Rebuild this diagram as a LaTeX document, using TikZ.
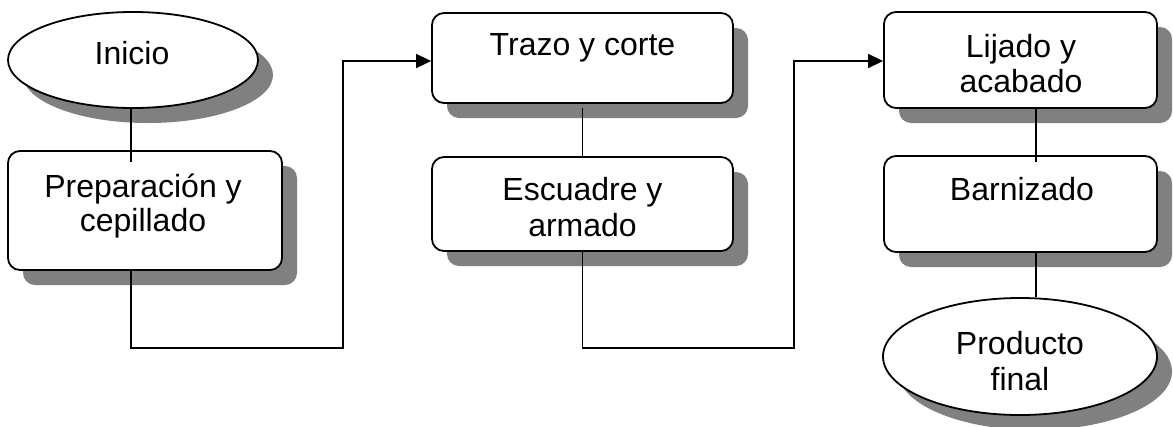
\documentclass[tikz,border=0pt]{standalone}
\usepackage{fontspec}
\setmainfont{Liberation Sans}
\usetikzlibrary{shapes.geometric,shadows,arrows.meta,calc}
\begin{document}
\begin{tikzpicture}[x=1pt,y=-1pt,
  shad/.style={drop shadow={shadow xshift=15pt,shadow yshift=-15pt,fill=black!50,opacity=1}},
  procbox/.style={draw,line width=1.8pt,rounded corners=12pt,fill=white,shad,inner sep=0pt},
  termin/.style={draw,ellipse,line width=1.8pt,fill=white,shad,inner sep=0pt},
  lbl/.style={font=\fontsize{32}{36}\selectfont,inner sep=0pt,anchor=base},
  conn/.style={line width=1.6pt},
  arr/.style={conn,-{Triangle[length=15pt,width=14pt]}}]
\useasboundingbox[fill=white] (0,0) rectangle (1173,426);

% nodes
\node[termin,minimum width=250pt,minimum height=96pt] (ini) at (133,60) {};
\node[lbl] (ini-t) at (132,64) {Inicio};

\node[procbox,minimum width=274pt,minimum height=119pt] (prep) at (145,210.5) {};
\node[lbl] (prep-t) at (143,197) {\begin{tabular}[t]{@{}c@{}}Preparación y\\[-2pt]cepillado\end{tabular}};

\node[procbox,minimum width=301pt,minimum height=90pt] (trazo) at (582.5,58) {};
\node[lbl] (trazo-t) at (582.5,55) {Trazo y corte};

\node[procbox,minimum width=301pt,minimum height=94pt] (escu) at (582.5,204) {};
\node[lbl] (escu-t) at (582.5,200) {\begin{tabular}[t]{@{}c@{}}Escuadre y\\armado\end{tabular}};

\node[procbox,minimum width=273pt,minimum height=96pt] (lij) at (1020.5,60) {};
\node[lbl] (lij-t) at (1021,57) {\begin{tabular}[t]{@{}c@{}}Lijado y\\[-1pt]acabado\end{tabular}};

\node[procbox,minimum width=273pt,minimum height=96pt] (barn) at (1020.5,204) {};
\node[lbl] (barn-t) at (1022,200) {Barnizado};

\node[termin,minimum width=274pt,minimum height=117pt] (prod) at (1020,356.5) {};
\node[lbl] (prod-t) at (1020,354) {\begin{tabular}[t]{@{}c@{}}Producto\\final\end{tabular}};

% connectors
\coordinate (c1) at (343,348);
\coordinate (c2) at (794,348);
\draw[conn] ([xshift=-2pt]ini.south) -- ([xshift=-14pt,yshift=-12pt]prep.north);
\draw[arr] ([xshift=-14pt]prep.south) |- (c1) |- ([yshift=-3pt]trazo.west);
\draw[conn] ([yshift=-4pt]trazo.south) -- (escu.north);
\draw[arr] (escu.south) |- (c2) |- ([yshift=-1pt]lij.west);
\draw[conn] ([xshift=15.5pt]lij.south) -- ([xshift=15.5pt,yshift=-7pt]barn.north);
\draw[conn] ([xshift=15.5pt]barn.south) -- ([xshift=16pt]prod.north);
\end{tikzpicture}
\end{document}
